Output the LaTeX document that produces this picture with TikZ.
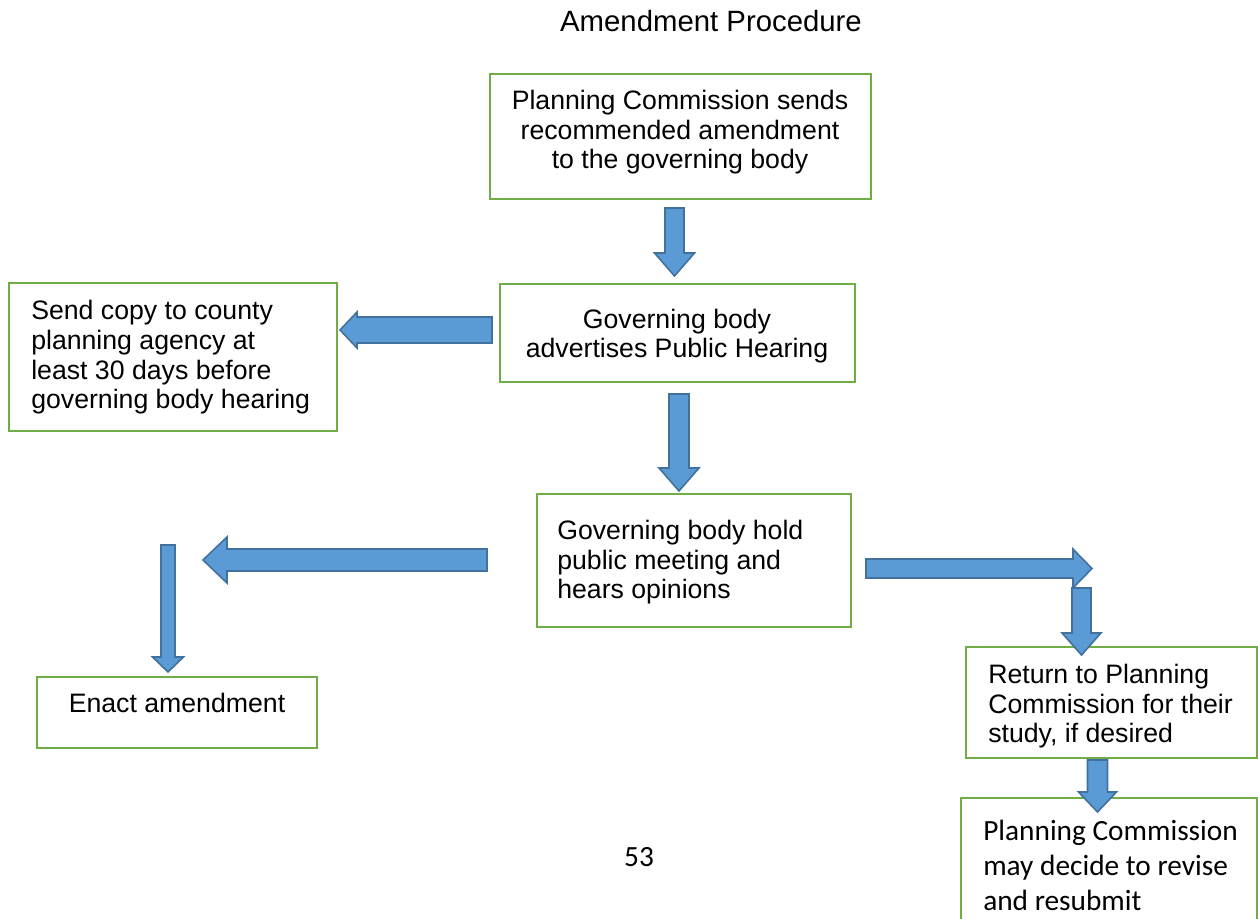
\documentclass[tikz,border=0pt]{standalone}
\usepackage{fontspec}
\setmainfont{Liberation Sans}
\newfontfamily\calfont{Carlito}
\usetikzlibrary{calc}
\definecolor{boxgreen}{HTML}{70AD47}
\definecolor{arrfill}{HTML}{5B9BD5}
\definecolor{arrline}{HTML}{41719C}
\tikzset{
  box/.style={draw=boxgreen, line width=2pt, fill=white, rectangle, inner sep=0pt},
  blockarr/.style={draw=arrline, fill=arrfill, line width=1.2pt, line join=miter},
  txt/.style={inner sep=0pt, font=\fontsize{20}{22.3}\selectfont},
  ctxt/.style={inner sep=0pt, font=\calfont\fontsize{22}{26.25}\selectfont},
}
% block arrow: from, to, shaft half width, head half width, head length
\newcommand{\barrow}[5]{%
  \coordinate (hb) at ($(#2)!#5!(#1)$);
  \draw[blockarr] ($(#1)!#3!90:(#2)$) -- ($(hb)!#3!-90:(#1)$) -- ($(hb)!#4!-90:(#1)$)
    -- (#2) -- ($(hb)!#4!90:(#1)$) -- ($(hb)!#3!90:(#1)$) -- ($(#1)!#3!-90:(#2)$) -- cycle;
}
\begin{document}
\begin{tikzpicture}[x=0.75pt, y=-0.75pt]
\useasboundingbox (0,0) rectangle (1258,919);
% boxes
\node[box, minimum width=285.75pt, minimum height=93.75pt] (b1) at (680.5,136.5) {};
\node[box, minimum width=266.25pt, minimum height=73.5pt] (b2) at (677.5,333) {};
\node[box, minimum width=246pt, minimum height=111pt] (b3) at (173,357) {};
\node[box, minimum width=235.5pt, minimum height=99.75pt] (b4) at (694,560.5) {};
\node[box, minimum width=210pt, minimum height=53.25pt] (b5) at (177,712.5) {};
\node[box, minimum width=218.25pt, minimum height=83.25pt] (b6) at (1111.5,702.5) {};
\node[box, minimum width=222pt, minimum height=99pt] (b7) at (1109,864) {};
% texts (base anchor = baseline of last line)
\node[inner sep=0pt, anchor=base, font=\fontsize{22}{26}\selectfont] (title) at (711,32) {Amendment Procedure};
\node[txt, anchor=base, align=center] (t1) at (680,169) {Planning Commission sends\\recommended amendment\\to the governing body};
\node[txt, anchor=base, align=center] (t2) at (677,358) {Governing body\\advertises Public Hearing};
\node[txt, anchor=base west, align=left] (t3) at (31,409) {Send copy to county\\planning agency at\\least 30 days before\\governing body hearing};
\node[txt, anchor=base west, align=left] (t4) at (557,599) {Governing body hold\\public meeting and\\hears opinions};
\node[txt, anchor=base] (t5) at (177,713) {Enact amendment};
\node[txt, anchor=base west, align=left] (t6) at (988,743) {Return to Planning\\Commission for their\\study, if desired};
\node[ctxt, anchor=base west, align=left] (t7) at (983,910) {Planning Commission\\may decide to revise\\and resubmit};
\node[ctxt, anchor=base] (page) at (639,867) {53};
% arrow endpoints
\coordinate (a1s) at (674.5,208);  \coordinate (a1e) at (674.5,276);
\coordinate (a2s) at (492,330);    \coordinate (a2e) at (340,330);
\coordinate (a3s) at (679,394);    \coordinate (a3e) at (679,491);
\coordinate (a4s) at (487,560);    \coordinate (a4e) at (203,560);
\coordinate (a5s) at (168,545);    \coordinate (a5e) at (168,672);
\coordinate (a6s) at (866,568.5);  \coordinate (a6e) at (1092,568.5);
\coordinate (a7s) at (1081.5,588); \coordinate (a7e) at (1081.5,655);
\coordinate (a8s) at (1097.5,760); \coordinate (a8e) at (1097.5,812);
\barrow{a1s}{a1e}{7.125pt}{15pt}{17.25pt}
\barrow{a2s}{a2e}{9.75pt}{13.5pt}{12.75pt}
\barrow{a3s}{a3e}{7.5pt}{15pt}{17.25pt}
\barrow{a4s}{a4e}{8.25pt}{17.25pt}{18pt}
\barrow{a5s}{a5e}{5.25pt}{11.6pt}{11.25pt}
\barrow{a6s}{a6e}{7.125pt}{14.6pt}{14.25pt}
\barrow{a7s}{a7e}{7.1pt}{14.6pt}{16.5pt}
\barrow{a8s}{a8e}{7.5pt}{14.25pt}{15pt}
\end{tikzpicture}
\end{document}
